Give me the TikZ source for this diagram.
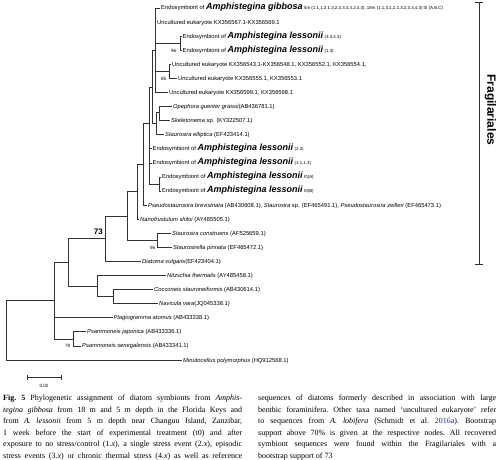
\documentclass[tikz,border=0pt]{standalone}
\usepackage{fontspec}
\setmainfont{Liberation Serif}
\newfontfamily\treefont{Liberation Sans}
\definecolor{linkblue}{RGB}{30,40,170}
\newcommand{\myEndo}{Endosymbiont of }
\newcommand{\myBI}[1]{{\fontsize{9}{9}\selectfont\bfseries\itshape #1}}
\newcommand{\myCode}[1]{{\fontsize{4.4}{5}\selectfont #1}}
\newcommand{\capS}[2]{{\frenchspacing\spaceskip=0.25em plus 0.8em minus 0.13em\relax\makebox[#1][s]{#2}}}
\begin{document}
\begin{tikzpicture}[x=1pt,y=-1pt,
  leaf/.style={anchor=west, inner xsep=0.8pt, inner ysep=0pt, text height=4pt, text depth=0pt, font=\treefont\fontsize{5.8}{6}\selectfont},
  br/.style={line width=0.65pt, draw=black!80},
  boot/.style={anchor=east, inner sep=0pt, font=\treefont\fontsize{4.6}{5}\selectfont},
  capline/.style={anchor=base west, inner sep=0pt, font=\fontsize{8}{9}\selectfont}]
\fill[white] (0,0) rectangle (499,460);
\useasboundingbox (0,0) rectangle (499,460);

% leaves
\node[leaf] (r1) at (160.2,8) {\myEndo\myBI{Amphistegina gibbosa} \myCode{5m (1.1,1.2,1.3,2.2,3.3,4.2,4.3), 18m (1.1,3.1,2.2,3.2,3.3,4.3) t0 (A,B,C)}};
\node[leaf] (r2) at (156.2,22.1) {Uncultured eukaryote KX356567.1-KX356569.1};
\node[leaf] (r3) at (181.7,36.2) {\myEndo\myBI{Amphistegina lessonii} \myCode{(3.3,4.3)}};
\node[leaf] (r4) at (181.7,50.2) {\myEndo\myBI{Amphistegina lessonii} \myCode{(1.3)}};
\node[leaf] (r5) at (171.2,64.3) {Uncultured eukaryote KX356543.1-KX356548.1, KX356552.1, KX356554.1,};
\node[leaf] (r6) at (177.2,78.3) {Uncultured eukaryote KX356555.1, KX356553.1};
\node[leaf] (r7) at (168.2,92.5) {Uncultured eukaryote KX356599.1, KX356598.1};
\node[leaf] (r8) at (172.2,106.6) {\textit{Opephora guenter grassii}(AB436781.1)};
\node[leaf] (r9) at (170.2,120.6) {\textit{Skeletonema} sp. (KY322507.1)};
\node[leaf] (r10) at (164.2,134.7) {\textit{Staurosira elliptica} (EF423414.1)};
\node[leaf] (r11) at (151.7,148.8) {\myEndo\myBI{Amphistegina lessonii} \myCode{(2.2)}};
\node[leaf] (r12) at (151.7,162.9) {\myEndo\myBI{Amphistegina lessonii} \myCode{(1.1,1.3)}};
\node[leaf] (r13) at (161.2,176.9) {\myEndo\myBI{Amphistegina lessonii} \myCode{t0(A)}};
\node[leaf] (r14) at (161.2,191.0) {\myEndo\myBI{Amphistegina lessonii} \myCode{t0(B)}};
\node[leaf] (r15) at (147.2,205.1) {\textit{Pseudostaurosira brevistriata} (AB430608.1), \textit{Staurosira} sp. (EF465491.1), \textit{Pseudostaurosira zeilleri} (EF465473.1)};
\node[leaf] (r16) at (139.2,219.2) {\textit{Nanofrustulum shiloi} (AY485505.1)};
\node[leaf] (r17) at (171.2,233.3) {\textit{Staurosira construens} (AF525659.1)};
\node[leaf] (r18) at (172.2,247.4) {\textit{Staurosirella pinnata} (EF465472.1)};
\node[leaf] (r19) at (141.2,261.4) {\textit{Diatoma vulgaris}(EF423404.1)};
\node[leaf] (r20) at (166.2,275.5) {\textit{Nitzschia thermalis} (AY485458.1)};
\node[leaf] (r21) at (153.2,289.6) {\textit{Cocconeis stauroneiformis} (AB430614.1)};
\node[leaf] (r22) at (158.2,303.7) {\textit{Navicula vara}(JQ045338.1)};
\node[leaf] (r23) at (112.7,317.8) {\textit{Plagiogramma atomus} (AB433338.1)};
\node[leaf] (r24) at (86.2,331.8) {\textit{Psammoneis japonica} (AB433336.1)};
\node[leaf] (r25) at (81.2,345.9) {\textit{Psammoneis senegalensis} (AB433341.1)};
\node[leaf] (r26) at (182.2,360) {\textit{Minutocellus polymorphus} (HQ912568.1)};

% internal nodes
\coordinate (nL1) at (180,43.2);
\coordinate (nU1) at (169,71.3);
\coordinate (nA) at (155,50.2);
\coordinate (nF) at (159.5,112.6);
\coordinate (nQ2) at (156,123.6);
\coordinate (nQ) at (152,87);
\coordinate (nT) at (159,184);
\coordinate (nEC) at (149.5,123);
\coordinate (nD) at (143,164);
\coordinate (nH) at (137,191.6);
\coordinate (nS) at (157,240.3);
\coordinate (nG) at (127,216);
\coordinate (nN) at (105,238.7);
\coordinate (nK) at (113,296.6);
\coordinate (nJ) at (97,286);
\coordinate (nI) at (68,262.4);
\coordinate (nM) at (73,338.9);
\coordinate (nL) at (54,300.6);
\coordinate (nR) at (6,300.6);

% branches
\draw[br] (nA) |- (r1.west);
\draw[br] (nA) |- (r2.west);
\draw[br] (nA) |- (nL1);
\draw[br] (nA) |- (nU1);
\draw[br] (nA) |- (r7.west);
\draw[br] (nL1) |- (r3.west);
\draw[br] (nL1) |- (r4.west);
\draw[br] (nU1) |- (r5.west);
\draw[br] (nU1) |- (r6.west);
\draw[br] (nQ) |- (nA);
\draw[br] (nQ) |- (nQ2);
\draw[br] (nQ2) |- (nF);
\draw[br] (nQ2) |- (r10.west);
\draw[br] (nF) |- (r8.west);
\draw[br] (nF) |- (r9.west);
\draw[br] (nEC) |- (nQ);
\draw[br] (nEC) |- (r11.west);
\draw[br] (nEC) |- (r12.west);
\draw[br] (nEC) |- (nT);
\draw[br] (nT) |- (r13.west);
\draw[br] (nT) |- (r14.west);
\draw[br] (nD) |- (nEC);
\draw[br] (nD) |- (r15.west);
\draw[br] (nH) |- (nD);
\draw[br] (nH) |- (r16.west);
\draw[br] (nG) |- (nH);
\draw[br] (nG) |- (nS);
\draw[br] (nS) |- (r17.west);
\draw[br] (nS) |- (r18.west);
\draw[br] (nN) |- (nG);
\draw[br] (nN) |- (r19.west);
\draw[br] (nI) |- (nN);
\draw[br] (nI) |- (nJ);
\draw[br] (nJ) |- (r20.west);
\draw[br] (nJ) |- (nK);
\draw[br] (nK) |- (r21.west);
\draw[br] (nK) |- (r22.west);
\draw[br] (nL) |- (nI);
\draw[br] (nL) |- (r23.west);
\draw[br] (nL) |- (nM);
\draw[br] (nM) |- (r24.west);
\draw[br] (nM) |- (r25.west);
\draw[br] (nR) |- (nL);
\draw[br] (nR) |- (r26.west);

% bootstrap values
\node[boot] (b1) at (176.5,50.6) {96};
\node[boot] (b2) at (166.5,78.7) {85};
\node[boot] (b3) at (155.5,247.8) {96};
\node[boot] (b4) at (70.5,346.3) {79};
\node[anchor=east, inner sep=0pt, font=\treefont\bfseries\fontsize{8}{9}\selectfont] (b5) at (103,232) {73};

% scale bar
\coordinate (sbA) at (27,377);
\coordinate (sbB) at (61,377);
\draw[br] (sbA) -- (sbB);
\draw[br] ([yshift=-2.5pt]sbA) -- ([yshift=2.5pt]sbA);
\draw[br] ([yshift=-2.5pt]sbB) -- ([yshift=2.5pt]sbB);
\node[inner sep=0pt, font=\treefont\fontsize{4.6}{5}\selectfont] (sbl) at (44,386) {0.02};

% Fragilariales bracket
\coordinate (frA) at (479,2);
\coordinate (frB) at (479,264);
\draw[br] (frA) -- (frB);
\draw[br] ([xshift=-4pt]frA) -- ([xshift=4pt]frA);
\draw[br] ([xshift=-4pt]frB) -- ([xshift=4pt]frB);
\node[rotate=-90, inner sep=0pt, font=\treefont\bfseries\fontsize{12}{12}\selectfont] (frl) at (490.5,110) {Fragilariales};

% caption
\node[capline] (cl1) at (3,400.5) {\capS{239pt}{\textbf{Fig. 5} Phylogenetic assignment of diatom symbionts from \textit{Amphis-}}};
\node[capline] (cl2) at (3,412) {\capS{239pt}{\textit{tegina gibbosa} from 18 m and 5 m depth in the Florida Keys and}};
\node[capline] (cl3) at (3,423.5) {\capS{239pt}{from \textit{A. lessonii} from 5 m depth near Changuu Island, Zanzibar,}};
\node[capline] (cl4) at (3,435) {\capS{239pt}{1 week before the start of experimental treatment (t0) and after}};
\node[capline] (cl5) at (3,446.5) {\capS{239pt}{exposure to no stress/control (1.\textit{x}), a single stress event (2.\textit{x}), episodic}};
\node[capline] (cl6) at (3,458) {\capS{239pt}{stress events (3.\textit{x}) or chronic thermal stress (4.\textit{x}) as well as reference}};
\node[capline] (cr1) at (258,400.5) {\capS{238pt}{sequences of diatoms formerly described in association with large}};
\node[capline] (cr2) at (258,412) {\capS{238pt}{benthic foraminifera. Other taxa named ‘uncultured eukaryote’ refer}};
\node[capline] (cr3) at (258,423.5) {\capS{238pt}{to sequences from \textit{A. lobifera} (Schmidt et al. \textcolor{linkblue}{2016a}). Bootstrap}};
\node[capline] (cr4) at (258,435) {\capS{238pt}{support above 70\% is given at the respective nodes. All recovered}};
\node[capline] (cr5) at (258,446.5) {\capS{238pt}{symbiont sequences were found within the Fragilariales with a}};
\node[capline] (cr6) at (258,458) {\frenchspacing bootstrap support of 73};
\end{tikzpicture}
\end{document}
